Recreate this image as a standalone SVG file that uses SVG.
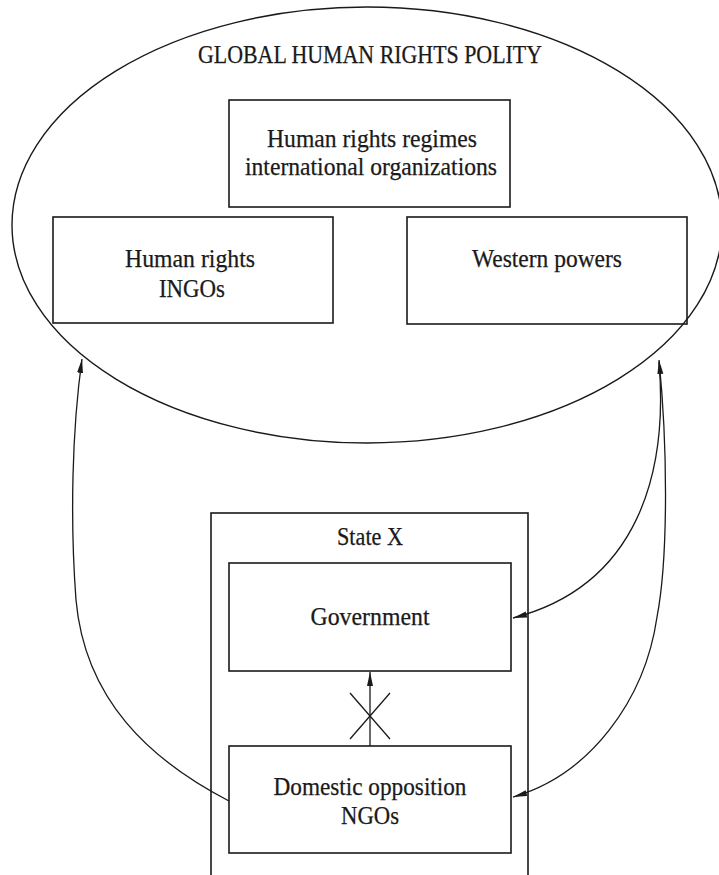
<svg xmlns="http://www.w3.org/2000/svg" width="719" height="875" viewBox="0 0 719 875">
<style>
.bg{fill:#ffffff}
.box{fill:none;stroke:#1a1a1a;stroke-width:1.6}
.outline{fill:none;stroke:#1a1a1a;stroke-width:1.4}
.con{fill:none;stroke:#1a1a1a;stroke-width:1.3}
.t{font-family:"Liberation Serif","Times New Roman",serif;font-size:25px;fill:#1a1a1a;stroke:#1a1a1a;stroke-width:0.25;text-anchor:middle}
.title{font-size:25px}
</style>
<defs>
<marker id="ah" markerUnits="userSpaceOnUse" markerWidth="15" markerHeight="7" refX="14" refY="3" orient="auto-start-reverse">
<path d="M0,0 L14,3 L0,6 Z" fill="#1a1a1a"/>
</marker>
</defs>
<rect class="bg" x="0" y="0" width="719" height="875"/>
<g id="polity">
<ellipse class="outline" cx="367" cy="225" rx="355" ry="218"/>
<text class="t title" x="370" y="63" textLength="344" lengthAdjust="spacingAndGlyphs">GLOBAL HUMAN RIGHTS POLITY</text>
</g>
<g id="regimes">
<rect class="box" x="229" y="100" width="281" height="107"/>
<text class="t" x="372" y="147" textLength="210" lengthAdjust="spacingAndGlyphs">Human rights regimes</text>
<text class="t" x="371" y="175" textLength="252" lengthAdjust="spacingAndGlyphs">international organizations</text>
</g>
<g id="ingos">
<rect class="box" x="53" y="217" width="280" height="106"/>
<text class="t" x="190" y="267" textLength="130" lengthAdjust="spacingAndGlyphs">Human rights</text>
<text class="t" x="192" y="297" textLength="66" lengthAdjust="spacingAndGlyphs">INGOs</text>
</g>
<g id="western">
<rect class="box" x="407" y="217" width="280" height="107"/>
<text class="t" x="547" y="267" textLength="150" lengthAdjust="spacingAndGlyphs">Western powers</text>
</g>
<g id="state">
<rect class="box" x="211" y="513" width="317" height="380"/>
<text class="t" x="370" y="545" textLength="66" lengthAdjust="spacingAndGlyphs">State X</text>
</g>
<g id="government">
<rect class="box" x="229" y="563" width="282" height="108"/>
<text class="t" x="370" y="625" textLength="119" lengthAdjust="spacingAndGlyphs">Government</text>
</g>
<g id="opposition">
<rect class="box" x="229" y="746" width="282" height="107"/>
<text class="t" x="370" y="795" textLength="193" lengthAdjust="spacingAndGlyphs">Domestic opposition</text>
<text class="t" x="370" y="824" textLength="58" lengthAdjust="spacingAndGlyphs">NGOs</text>
</g>
<g id="connectors">
<path class="con" d="M229,801 C150,760 85,700 76,600 C70,520 72,430 82,359" marker-end="url(#ah)"/>
<path class="con" d="M659,360 C668,450 668,560 657,617 C645,700 590,775 513,797" marker-start="url(#ah)" marker-end="url(#ah)"/>
<path class="con" d="M659,362 C668,470 640,585 513,618" marker-end="url(#ah)"/>
<path class="con" d="M370,746 L370,672" marker-end="url(#ah)"/>
<line class="con" x1="350" y1="693" x2="390" y2="739"/>
<line class="con" x1="390" y1="693" x2="350" y2="739"/>
</g>
</svg>
